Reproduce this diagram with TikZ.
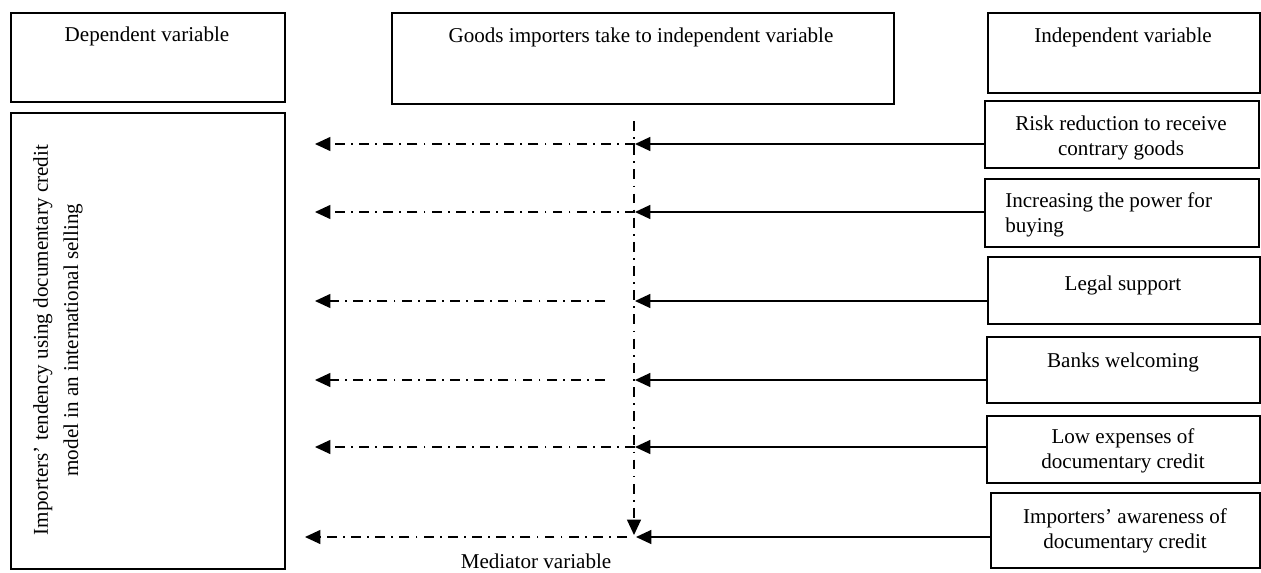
\documentclass[tikz,border=0pt]{standalone}
\usepackage{fontspec}
\setmainfont{Liberation Serif}
\usetikzlibrary{arrows.meta, calc}

\def\px{0.025cm}

\tikzset{
	varbox/.style 2 args = {draw, line width = 1.2pt, anchor = north west, inner sep = 0pt,
		minimum width = #1*\px, minimum height = #2*\px},
	txt/.style = {align = center, inner sep = 0pt, font = \fontsize{15}{17.5}\selectfont},
	tip/.style = {-{Triangle[length = 11pt, width = 10pt]}},
	solidarrow/.style = {tip, line width = 1.1pt},
	dasharrow/.style = {tip, line width = 0.9pt, dash pattern = on 7pt off 4.5pt on 1.2pt off 4.5pt}
}

\begin{document}
\begin{tikzpicture}[x = \px, y = -\px]
	\useasboundingbox (0,0) rectangle (1261,572);

	\begin{scope}
		\node [varbox = {274}{89}] (dep) at (10,12) {};
		\node [varbox = {502}{91}] (goods) at (391,12) {};
		\node [varbox = {272}{80}] (indep) at (987,12) {};
		\node [varbox = {274}{456}] (tend) at (10,112) {};

		\node [varbox = {274}{67}] (risk) at (984,100) {};
		\node [varbox = {274}{68}] (incr) at (984,178) {};
		\node [varbox = {272}{67}] (legal) at (987,256) {};
		\node [varbox = {273}{66}] (banks) at (986,336) {};
		\node [varbox = {273}{67}] (low) at (986,415) {};
		\node [varbox = {269}{75}] (aware) at (990,492) {};
	\end{scope}

	\begin{scope}
		\node [txt] (deptext) at (147,36) {Dependent variable};
		\node [txt] (goodstext) at (641,37) {Goods importers take to independent variable};
		\node [txt] (indeptext) at (1123,37) {Independent variable};
		\node [txt, rotate = 90, font = \fontsize{15}{21.5}\selectfont] (tendtext) at (58,340)
			{Importers’ tendency using documentary credit\\model in an international selling};

		\node [txt] (risktext) at (1121,138) {Risk reduction to receive\\contrary goods};
		\node [txt, align = left, anchor = west] (incrtext) at (1005,215) {Increasing the power for\\buying};
		\node [txt] (legaltext) at (1123,285) {Legal support};
		\node [txt] (bankstext) at (1123,362) {Banks welcoming};
		\node [txt] (lowtext) at (1123,451) {Low expenses of\\documentary credit};
		\node [txt] (awaretext) at (1125,531) {Importers’ awareness of\\documentary credit};
		\node [txt] (medtext) at (536,561) {Mediator variable};
	\end{scope}

	% points on the mediator line and free ends on the left
	\coordinate (m1) at (635,144);
	\coordinate (m2) at (635,212);
	\coordinate (m3) at (635,301);
	\coordinate (m4) at (635,380);
	\coordinate (m5) at (635,447);
	\coordinate (m6) at (636,537);

	\coordinate (g3) at (605,301);
	\coordinate (g4) at (605,380);
	\coordinate (g6) at (627,537);

	\coordinate (l1) at (315,144);
	\coordinate (l2) at (315,212);
	\coordinate (l3) at (315,301);
	\coordinate (l4) at (315,380);
	\coordinate (l5) at (315,447);
	\coordinate (l6) at (305,537);

	\coordinate (mtop) at (634,121);
	\coordinate (mbot) at (634,535);

	\begin{scope}
		\draw [solidarrow] (risk.west |- m1) -- (m1);
		\draw [solidarrow] (incr.west |- m2) -- (m2);
		\draw [solidarrow] (legal.west |- m3) -- (m3);
		\draw [solidarrow] (banks.west |- m4) -- (m4);
		\draw [solidarrow] (low.west |- m5) -- (m5);
		\draw [solidarrow] (aware.west |- m6) -- (m6);
	\end{scope}

	\begin{scope}
		\draw [dasharrow] (mtop) -- (mbot);
		\draw [dasharrow] (m1) -- (l1);
		\draw [dasharrow] (m2) -- (l2);
		\draw [dasharrow] (g3) -- (l3);
		\draw [dasharrow] (g4) -- (l4);
		\draw [dasharrow] (m5) -- (l5);
		\draw [dasharrow] (g6) -- (l6);
	\end{scope}
\end{tikzpicture}
\end{document}
